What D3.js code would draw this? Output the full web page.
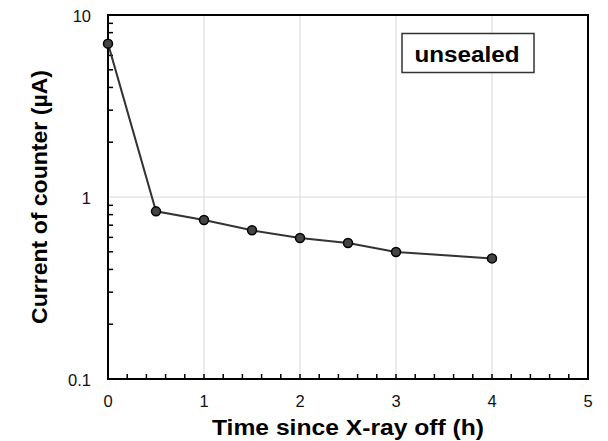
<!DOCTYPE html>
<html><head><meta charset="utf-8">
<script src="https://cdn.jsdelivr.net/npm/d3@7"></script>
<style>body{margin:0;background:#fff}svg{display:block}text{font-family:Arial,"Liberation Sans",sans-serif}</style>
</head><body>
<script>
const hours = [0, 0.5, 1, 1.5, 2, 2.5, 3, 4];
const current = [6.96, 0.834, 0.748, 0.656, 0.595, 0.559, 0.499, 0.46];
const xTicks = [0, 1, 2, 3, 4, 5];
const yTicks = [0.1, 1, 10];
const yTickLabels = ["0.1", "1", "10"];
const xTitle = "Time since X-ray off (h)";
const yTitle = "Current of counter (\u00b5A)";
const tag = "unsealed";

const W = 608, H = 441;
const m = {left: 108, right: 20, top: 15, bottom: 62};
const svg = d3.select("body").append("svg").attr("width", W).attr("height", H);
const x = d3.scaleLinear().domain([0, 5]).range([m.left, W - m.right]);
const y = d3.scaleLog().domain([0.1, 10]).range([H - m.bottom, m.top]);

// grid
svg.append("g").selectAll("line").data(xTicks.filter(d => d > 0 && d < 5)).join("line")
  .attr("x1", d => x(d)).attr("x2", d => x(d)).attr("y1", y(10)).attr("y2", y(0.1))
  .attr("stroke", "#d9d9d9").attr("stroke-width", 1);
svg.append("line").attr("x1", x(0)).attr("x2", x(5)).attr("y1", y(1)).attr("y2", y(1))
  .attr("stroke", "#d9d9d9").attr("stroke-width", 1);

// minor ticks x
const xMinor = d3.range(1, 25).map(i => i * 0.2);
svg.append("g").selectAll("line").data(xMinor).join("line")
  .attr("x1", d => x(d)).attr("x2", d => x(d)).attr("y1", y(0.1)).attr("y2", y(0.1) - 5)
  .attr("stroke", "#000").attr("stroke-width", 1.5);
// minor ticks y
const yMinor = [];
[0.1, 1].forEach(b => { for (let k = 2; k <= 9; k++) yMinor.push(b * k); });
svg.append("g").selectAll("line").data(yMinor).join("line")
  .attr("x1", x(0)).attr("x2", x(0) + 5).attr("y1", d => y(d)).attr("y2", d => y(d))
  .attr("stroke", "#000").attr("stroke-width", 1.5);

// frame
svg.append("rect").attr("x", x(0)).attr("y", y(10)).attr("width", x(5) - x(0)).attr("height", y(0.1) - y(10))
  .attr("fill", "none").attr("stroke", "#000").attr("stroke-width", 2);

// tick labels
svg.append("g").selectAll("text").data(xTicks).join("text")
  .attr("x", d => x(d)).attr("y", y(0.1) + 27.5).attr("text-anchor", "middle")
  .attr("font-size", 16.5).attr("fill", "#111").text(d => d);
svg.append("g").selectAll("text").data(yTicks).join("text")
  .attr("x", x(0) - 17).attr("y", d => y(d) + 6.5).attr("text-anchor", "end")
  .attr("font-size", 16.5).attr("fill", "#111").text((d, i) => yTickLabels[i]);

// titles
svg.append("text").attr("x", (x(0) + x(5)) / 2).attr("y", 435).attr("text-anchor", "middle")
  .attr("font-size", 22).attr("font-weight", "bold").attr("fill", "#000")
  .attr("textLength", 272).attr("lengthAdjust", "spacingAndGlyphs").text(xTitle);
svg.append("text").attr("transform", `translate(47,${(y(10) + y(0.1)) / 2}) rotate(-90)`)
  .attr("text-anchor", "middle").attr("font-size", 22).attr("font-weight", "bold").attr("fill", "#000")
  .attr("textLength", 254).attr("lengthAdjust", "spacingAndGlyphs").text(yTitle);

// line + points
const data = hours.map((h, i) => ({h, c: current[i]}));
svg.append("path").datum(data).attr("fill", "none").attr("stroke", "#333").attr("stroke-width", 2)
  .attr("d", d3.line().x(d => x(d.h)).y(d => y(d.c)));
svg.append("g").selectAll("circle").data(data).join("circle")
  .attr("cx", d => x(d.h)).attr("cy", d => y(d.c)).attr("r", 4.5)
  .attr("fill", "#444").attr("stroke", "#000").attr("stroke-width", 1.5);

// tag box
svg.append("rect").attr("x", 402).attr("y", 33.5).attr("width", 132).attr("height", 39)
  .attr("fill", "#fff").attr("stroke", "#333").attr("stroke-width", 1.5);
svg.append("text").attr("x", 467).attr("y", 61.5).attr("text-anchor", "middle")
  .attr("font-size", 21.5).attr("font-weight", "bold").attr("fill", "#000")
  .attr("textLength", 105).attr("lengthAdjust", "spacingAndGlyphs").text(tag);
</script>
</body></html>
